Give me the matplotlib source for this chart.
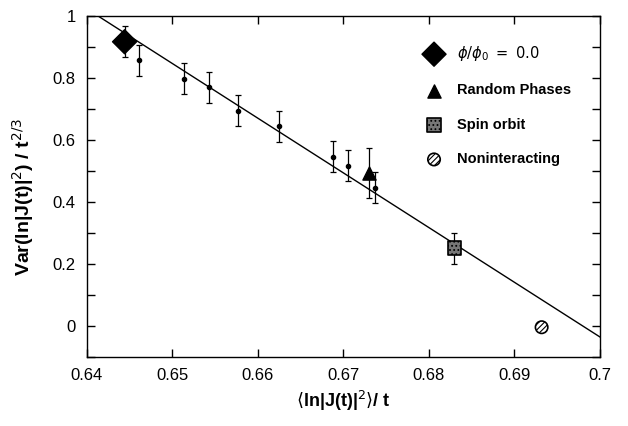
import matplotlib
matplotlib.use("Agg")
import matplotlib.pyplot as plt
import numpy as np

plt.rcParams['font.family'] = ['Liberation Sans', 'DejaVu Sans']
plt.rcParams['hatch.linewidth'] = 0.8

# small dots with error bars
dot_x = [0.6461, 0.6513, 0.6543, 0.6577, 0.6625, 0.6688, 0.6706, 0.6737]
dot_y = [0.858, 0.797, 0.770, 0.695, 0.645, 0.546, 0.517, 0.446]
dot_err = [0.05, 0.05, 0.05, 0.05, 0.05, 0.05, 0.05, 0.05]

# special points
diam_x, diam_y, diam_err = [0.6444], [0.917], [0.05]
tri_x, tri_y, tri_err = [0.6730], [0.493], [0.08]
sq_x, sq_y, sq_err = [0.6830], [0.251], [0.05]
circ_x, circ_y = [0.6932], [-0.004]

# fit line
line_x = [0.6413, 0.70]
line_y = [1.0, -0.035]

fig = plt.figure(figsize=(6.28, 4.26), dpi=100)
ax = fig.add_axes([0.1385, 0.162, 0.8165, 0.8004])

ax.plot(line_x, line_y, color='black', lw=1.0, zorder=2)

ax.errorbar(dot_x, dot_y, yerr=dot_err, fmt='o', ms=3, color='black',
            ecolor='black', elinewidth=0.9, capsize=2.5, capthick=0.9, zorder=3)
for xs, ys, es in [(diam_x, diam_y, diam_err), (tri_x, tri_y, tri_err), (sq_x, sq_y, sq_err)]:
    ax.errorbar(xs, ys, yerr=es, fmt='none', ecolor='black', elinewidth=0.9,
                capsize=2.5, capthick=0.9, zorder=3)

h1 = ax.scatter(diam_x, diam_y, marker='D', s=150, facecolor='black',
                edgecolor='black', hatch='----', zorder=4, label=r'$\phi/\phi_0\ =\ \mathrm{0.0}$')
h2 = ax.scatter(tri_x, tri_y, marker='^', s=90, facecolor='black',
                edgecolor='black', zorder=4, label='Random Phases')
h3 = ax.scatter(sq_x, sq_y, marker='s', s=100, facecolor='#777777',
                edgecolor='black', hatch='....', linewidth=1.2, zorder=4, label='Spin orbit')
h4 = ax.scatter(circ_x, circ_y, marker='o', s=80, facecolor='white',
                edgecolor='black', hatch='//////', linewidth=1.2, zorder=4, label='Noninteracting')

leg = ax.legend(handles=[h1, h2, h3, h4], loc='upper left', bbox_to_anchor=(0.637, 0.935),
                frameon=False, labelspacing=1.4, handletextpad=0.6,
                prop={'weight': 'bold', 'size': 10.5}, scatterpoints=1, borderaxespad=0)

ax.set_xlim(0.64, 0.70)
ax.set_ylim(-0.1, 1.0)
ax.set_xticks([0.64, 0.65, 0.66, 0.67, 0.68, 0.69, 0.70])
ax.set_xticklabels(['0.64', '0.65', '0.66', '0.67', '0.68', '0.69', '0.7'])
ax.set_yticks([0, 0.2, 0.4, 0.6, 0.8, 1.0])
ax.set_yticklabels(['0', '0.2', '0.4', '0.6', '0.8', '1'])
ax.set_yticks([-0.1, 0.1, 0.3, 0.5, 0.7, 0.9], minor=True)
ax.tick_params(which='both', direction='in', top=True, right=True, labelsize=12, pad=8)
ax.tick_params(which='major', length=6, width=1)
ax.tick_params(which='minor', length=6, width=1)
for s in ax.spines.values():
    s.set_linewidth(1.0)

ax.set_xlabel(r'$\langle$ln|J(t)|$^{2}\rangle$/ t', fontsize=13, fontweight='bold', labelpad=4)
ax.set_ylabel(r'Var(ln|J(t)|$^{2}$) / t$^{2/3}$', fontsize=14, fontweight='bold', labelpad=8)
ax.yaxis.set_label_coords(-0.1, 0.47)

fig.savefig('out.png', dpi=100)
